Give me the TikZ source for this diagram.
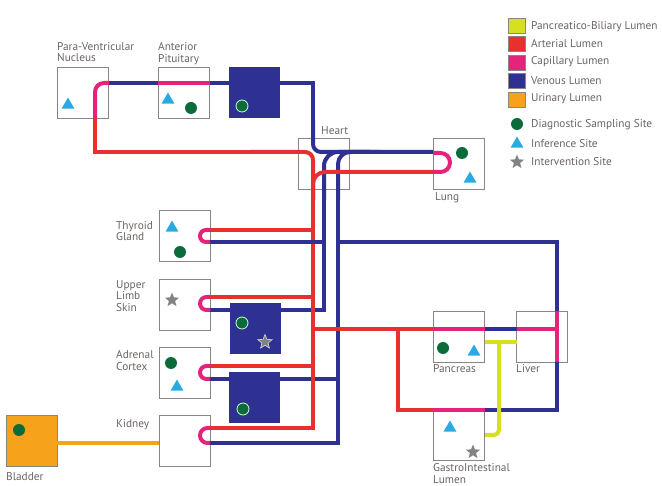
\documentclass[tikz,border=0pt]{standalone}
\usepackage{fontspec}
\setmainfont{PT Sans}
\usetikzlibrary{shapes.geometric}
\definecolor{artc}{HTML}{E8312F}
\definecolor{venc}{HTML}{2E3192}
\definecolor{capc}{HTML}{E6237A}
\definecolor{pbc}{HTML}{D7DF23}
\definecolor{uric}{HTML}{F7A21B}
\definecolor{grn}{HTML}{0B6B3A}
\definecolor{tric}{HTML}{29ABE2}
\definecolor{starc}{HTML}{808285}
\definecolor{boxc}{HTML}{8C8480}
\definecolor{txtc}{HTML}{6B6462}
\begin{document}
\begin{tikzpicture}[x=1pt,y=-1pt,
  organ/.style={draw=boxc, line width=0.8pt, minimum size=51pt, inner sep=0pt},
  dsq/.style={fill=venc, minimum size=51pt, inner sep=0pt},
  dot/.style={circle, fill=grn, minimum size=12pt, inner sep=0pt},
  dotw/.style={dot, draw=green!20!white, line width=0.8pt},
  tri/.style={regular polygon, regular polygon sides=3, fill=tric, minimum size=15pt, inner sep=0pt},
  starm/.style={star, star points=5, star point ratio=2.3, fill=starc, minimum size=15pt, inner sep=0pt},
  pipe/.style={line width=4pt},
  lbl/.style={text=txtc, font=\fontsize{11.3}{11.8}\selectfont, inner sep=0pt, align=left},
  sw/.style={draw=boxc, line width=0.6pt, minimum width=17pt, minimum height=15pt, inner sep=0pt}]
\useasboundingbox (0,0) rectangle (662,486);

% organ boxes
\node[organ] (pvn) at (83,92.5) {};
\node[organ] (pit) at (184,92.5) {};
\node[organ] (heart) at (324,163.5) {};
\node[organ] (lung) at (459,163.5) {};
\node[organ] (thy) at (184.5,236) {};
\node[organ] (skin) at (184.5,304.5) {};
\node[organ] (adr) at (184.5,372.5) {};
\node[organ] (kid) at (184.5,440.5) {};
\node[organ, fill=uric] (bladder) at (31.5,440.5) {};
\node[organ] (panc) at (459,336.5) {};
\node[organ] (liver) at (542,336.5) {};
\node[organ] (gi) at (459,435) {};

% urinary
\draw[pipe, draw=uric] (bladder.east |- 0,443) -- (kid.west |- 0,443);

% venous
\begin{scope}[pipe, draw=venc]
\draw (109,83) -- (158,83);
\draw (210,83) -- (313,83) -- (313,120);
\draw[rounded corners=8] (313,120) -- (313,152) -- (433,152);
\draw (210,310) -- (324,310) -- (324,200);
\draw[rounded corners=14] (324,200) -- (324,152) -- (370,152);
\draw (210,443) -- (338,443) -- (338,200);
\draw[rounded corners=12] (338,200) -- (338,152) -- (380,152);
\draw (210,242) -- (324,242);
\draw (210,379) -- (338,379);
\draw (338,242) -- (557,242) -- (557,311);
\draw (557,362) -- (557,410) -- (485,410);
\draw (485,329) -- (517,329);
\end{scope}

% arterial
\begin{scope}[pipe, draw=artc]
\draw (95,118) -- (95,152) -- (250,152);
\draw[rounded corners=8] (250,152) -- (313,152) -- (313,200);
\draw (313,200) -- (313,428) -- (210,428);
\draw[rounded corners=12] (433,172) -- (313,172) -- (313,200);
\draw (210,230) -- (313,230);
\draw (210,297) -- (313,297);
\draw (210,366) -- (313,366);
\draw (313,329) -- (433,329);
\draw (398,329) -- (398,410) -- (433,410);
\end{scope}
\draw[pipe, draw=venc] (305,242) -- (324,242);

% capillary
\begin{scope}[pipe, draw=capc]
\draw[rounded corners=9] (95,118) -- (95,83) -- (109,83);
\draw (158,83) -- (210,83);
\draw[rounded corners=6] (210,230) -- (200,230) -- (200,242) -- (210,242);
\draw[rounded corners=6.5] (210,297) -- (200,297) -- (200,310) -- (210,310);
\draw[rounded corners=6.5] (210,366) -- (200,366) -- (200,379) -- (210,379);
\draw[rounded corners=7.5] (210,428) -- (200,428) -- (200,443) -- (210,443);
\draw[rounded corners=9.5] (433,153) -- (450,153) -- (450,172) -- (433,172);
\draw (433,329) -- (485,329);
\draw (517,329) -- (557,329);
\draw (557,311) -- (557,362);
\draw (433,410) -- (485,410);
\end{scope}

% pancreatico-biliary
\draw[pipe, draw=pbc] (485,342) -- (517,342);
\draw[pipe, draw=pbc, rounded corners=5] (499,342) -- (499,435) -- (485,435);

% dark squares
\node[dsq] (ds1) at (254.5,92.5) {};
\node[dsq] (ds2) at (255,328.5) {};
\node[dsq] (ds3) at (254.5,397.5) {};

% markers
\node[tri] at (68,105) {};
\node[tri] at (168,100) {};
\node[dot] at (191,108) {};
\node[dotw] at (242,106) {};
\node[dot] at (462,153) {};
\node[tri] at (470,179) {};
\node[tri] at (172,228) {};
\node[dot] at (180,252) {};
\node[starm] at (172,300) {};
\node[dotw] at (242,323) {};
\node[starm, draw=white!70!starc, line width=0.6pt] at (265,342) {};
\node[dot] at (171,363) {};
\node[tri] at (177,387) {};
\node[dotw] at (243,409) {};
\node[dot] at (19,430) {};
\node[dot] at (443,348) {};
\node[tri] at (474,352) {};
\node[tri] at (450,428) {};
\node[starm] at (473,452) {};

% labels
\node[lbl, anchor=north west] at (57,42) {Para-Ventricular\\Nucleus};
\node[lbl, anchor=north west] at (158,42) {Anterior\\Pituitary};
\node[lbl, anchor=west] at (321,131) {Heart};
\node[lbl, anchor=west] at (435,198) {Lung};
\node[lbl, anchor=north west] at (116,221) {Thyroid\\Gland};
\node[lbl, anchor=north west] at (116,280) {Upper\\Limb\\Skin};
\node[lbl, anchor=north west] at (116,350) {Adrenal\\Cortex};
\node[lbl, anchor=west] at (116,425) {Kidney};
\node[lbl, anchor=west] at (6,477) {Bladder};
\node[lbl, anchor=west] at (433,369) {Pancreas};
\node[lbl, anchor=west] at (516,369) {Liver};
\node[lbl, anchor=north west] at (433,463) {GastroIntestinal\\Lumen};

% legend
\node[sw, fill=pbc] (l1) at (516.5,26) {};
\node[sw, fill=artc] (l2) at (516.5,44) {};
\node[sw, fill=capc] (l3) at (516.5,62.5) {};
\node[sw, fill=venc] (l4) at (516.5,81) {};
\node[sw, fill=uric] (l5) at (516.5,99.5) {};
\node[dot] (l6) at (517,124) {};
\node[tri] (l7) at (517,144) {};
\node[starm] (l8) at (517,162) {};
\node[lbl, anchor=west] at (531,27) {Pancreatico-Biliary Lumen};
\node[lbl, anchor=west] at (531,44) {Arterial Lumen};
\node[lbl, anchor=west] at (531,62) {Capillary Lumen};
\node[lbl, anchor=west] at (531,81) {Venous Lumen};
\node[lbl, anchor=west] at (531,99) {Urinary Lumen};
\node[lbl, anchor=west] at (531,125) {Diagnostic Sampling Site};
\node[lbl, anchor=west] at (531,144) {Inference Site};
\node[lbl, anchor=west] at (531,162) {Intervention Site};
\end{tikzpicture}
\end{document}
